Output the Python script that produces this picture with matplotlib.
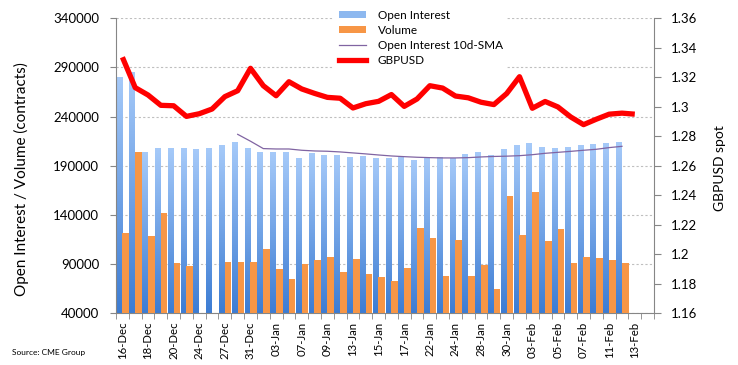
import numpy as np
import matplotlib
matplotlib.use("Agg")
from matplotlib import pyplot as plt
from matplotlib.colors import LinearSegmentedColormap
from matplotlib.patches import Patch
from matplotlib.lines import Line2D

plt.rcParams['font.family'] = ['Lato', 'DejaVu Sans']

# Trading days on the x axis (only every other one gets a label).
dates = ['16-Dec', '17-Dec', '18-Dec', '19-Dec', '20-Dec', '23-Dec', '24-Dec',
         '26-Dec', '27-Dec', '30-Dec', '31-Dec', '02-Jan', '03-Jan', '06-Jan',
         '07-Jan', '08-Jan', '09-Jan', '10-Jan', '13-Jan', '14-Jan', '15-Jan',
         '16-Jan', '17-Jan', '21-Jan', '22-Jan', '23-Jan', '24-Jan', '27-Jan',
         '28-Jan', '29-Jan', '30-Jan', '31-Jan', '03-Feb', '04-Feb', '05-Feb',
         '06-Feb', '07-Feb', '10-Feb', '11-Feb', '12-Feb', '13-Feb', '14-Feb']

# Open interest and volume, 16-Dec .. 12-Feb (contracts).
open_interest = [279000, 285000, 203500, 207500, 207500, 207500, 206500, 207500,
                 210500, 213500, 207500, 203500, 203500, 203500, 197500, 202500,
                 200500, 200500, 198500, 199500, 197000, 197000, 198000, 195000,
                 198500, 198000, 197000, 201000, 203000, 200000, 206000, 210000,
                 212000, 208000, 207000, 208000, 210000, 211000, 212000, 213000]
volume = [122000, 204500, 119000, 142500, 91500, 88500, None, None,
          92500, 92500, 92500, 105500, 85000, 75000, 90500, 94500,
          97500, 82000, 95500, 80000, 76500, 73000, 86500, 127000,
          116500, 77500, 114500, 77500, 89000, 65000, 159500, 119500,
          163500, 113500, 126000, 91000, 97500, 96500, 94000, 91000]

# 10-day SMA of open interest, starts on 30-Dec.
sma_start = 9
oi_sma = [222000, 215000, 207500, 207100, 207100, 205800, 205100, 204800,
          204100, 203100, 202100, 201000, 200000, 199300, 198700, 198300,
          198000, 198000, 198300, 199000, 199500, 199800, 200300, 201300,
          202700, 203700, 204700, 205800, 206800, 208500, 209800]

# GBPUSD spot, 16-Dec .. 13-Feb.
gbpusd = [1.3336, 1.3130, 1.3080, 1.3010, 1.3007, 1.2935, 1.2953, 1.2985,
          1.3069, 1.3109, 1.3261, 1.3143, 1.3075, 1.3170, 1.3121, 1.3091,
          1.3064, 1.3058, 1.2992, 1.3021, 1.3037, 1.3083, 1.3003, 1.3053,
          1.3143, 1.3127, 1.3073, 1.3061, 1.3031, 1.3015, 1.3090, 1.3204,
          1.2990, 1.3036, 1.2999, 1.2931, 1.2879, 1.2916, 1.2950, 1.2957,
          1.2950]

grey = '#868686'
orange = '#F79646'
blues = LinearSegmentedColormap.from_list('oi', ['#A6CAF9', '#3C7CD3'])

fig = plt.figure(figsize=(7.38, 3.65), dpi=100)
ax = fig.add_axes([116 / 738, 1 - 313.3 / 365, 538 / 738, 295 / 365])
ax2 = ax.twinx()

# Open interest bars with a vertical gradient, one image per bar.
grad = np.linspace(0, 1, 256).reshape(-1, 1)
y_min = 40000
for i, v in enumerate(open_interest):
    ax.imshow(grad, extent=(i - 0.46, i, y_min, v), aspect='auto',
              cmap=blues, zorder=2, interpolation='bilinear')

vol_x = [i for i, v in enumerate(volume) if v is not None]
vol_y = [v for v in volume if v is not None]
ax.bar(np.array(vol_x) + 0.25, vol_y, width=0.52, color=orange, zorder=3)

ax.plot(range(sma_start, sma_start + len(oi_sma)), oi_sma,
        color='#8064A2', lw=0.9, zorder=4)
ax2.plot(range(len(gbpusd)), gbpusd, color='#FF0000', lw=3.8,
         solid_joinstyle='round', solid_capstyle='butt', zorder=5)

# Axes, ticks and grid.
ax.set_xlim(-0.5, len(dates) - 0.5)
ax.set_ylim(40000, 340000)
ax.set_yticks(range(40000, 340001, 50000))
ax2.set_ylim(1.16, 1.36)
ax2.set_yticks(np.arange(1.16, 1.3601, 0.02))
ax2.yaxis.set_major_formatter(matplotlib.ticker.FuncFormatter(lambda v, p: f"{v:g}"))

ax.set_xticks(range(0, len(dates), 2))
ax.set_xticklabels(dates[::2], rotation=90, fontsize=8.2)
ax.set_xticks(np.arange(-0.5, len(dates)), minor=True)
ax.tick_params(axis='x', which='major', length=0, pad=6)
ax.tick_params(axis='x', which='minor', length=4, color=grey)
ax.tick_params(axis='y', length=4, color=grey, labelsize=9.5, pad=8)
ax2.tick_params(axis='y', length=5, color=grey, labelsize=9.5, pad=7)

ax.grid(axis='y', color='#BFBFBF', linestyle=(0, (2, 2)), lw=0.8, zorder=0)
ax.set_axisbelow(True)

for s in ['top', 'right']:
    ax.spines[s].set_visible(False)
for s in ['top', 'left', 'bottom']:
    ax2.spines[s].set_visible(False)
ax.spines['left'].set_color(grey)
ax.spines['bottom'].set_color(grey)
ax2.spines['right'].set_color(grey)

ax.set_ylabel('Open Interest / Volume (contracts)', fontsize=11)
ax.yaxis.set_label_coords(-0.162, 0.455)
ax2.set_ylabel('GBPUSD spot', fontsize=10)
ax2.yaxis.set_label_coords(1.112, 0.4925)

# Legend at top centre.
handles = [Patch(facecolor='#8DB8EF'), Patch(facecolor=orange),
           Line2D([], [], color='#8064A2', lw=0.9),
           Line2D([], [], color='#FF0000', lw=3.8)]
labels = ['Open Interest', 'Volume', 'Open Interest 10d-SMA', 'GBPUSD']
fig.legend(handles, labels, loc='upper left', bbox_to_anchor=(328 / 738, 1 + 1 / 365),
           fontsize=8.5, frameon=True, facecolor='white', edgecolor='none',
           framealpha=1, fancybox=False, handlelength=2.3, handleheight=0.6,
           handletextpad=1.0, labelspacing=0.35, borderpad=0.4)

fig.text(12 / 738, 1 - 352 / 365, 'Source: CME Group', fontsize=6, va='center')

plt.savefig('out.png', dpi=100)
